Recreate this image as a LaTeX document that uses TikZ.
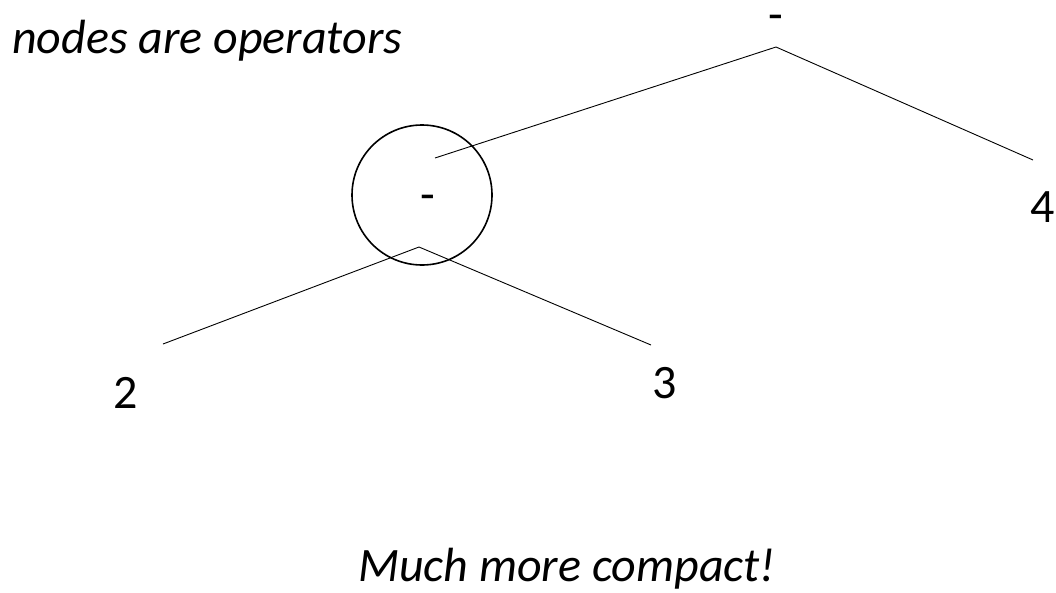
\documentclass[tikz,border=0pt]{standalone}
\usepackage{fontspec}
\setmainfont{Carlito}
\begin{document}
\begin{tikzpicture}[x=1pt,y=-1pt,
  lbl/.style={inner sep=0pt,anchor=base,font=\fontsize{48}{56}\selectfont},
  ital/.style={inner sep=0pt,font=\fontsize{48}{56}\selectfont\itshape},
  edge/.style={line width=0.9pt}]
\useasboundingbox (0,0) rectangle (1056,592);
\node[lbl] (top) at (776,30) {-};
\coordinate (topa) at (776,47);
\coordinate (lend) at (435,158);
\coordinate (rend) at (1033,160);
\node[lbl] (four) at (1043,222) {4};
\node[draw,circle,minimum size=140pt,line width=1.6pt] (circ) at (422,195) {};
\node[lbl] (mid) at (428,210) {-};
\coordinate (mida) at (419,247);
\coordinate (l2) at (163,344);
\coordinate (r3) at (651,345);
\node[lbl] (two) at (126,408) {2};
\node[lbl] (three) at (665,398) {3};
\draw[edge] (lend) -- (topa) -- (rend);
\draw[edge] (l2) -- (mida) -- (r3);
\node[ital,anchor=base west] (t1) at (12,53) {nodes are operators};
\node[ital,anchor=base west] (t2) at (358,581) {Much more compact!};
\end{tikzpicture}
\end{document}
